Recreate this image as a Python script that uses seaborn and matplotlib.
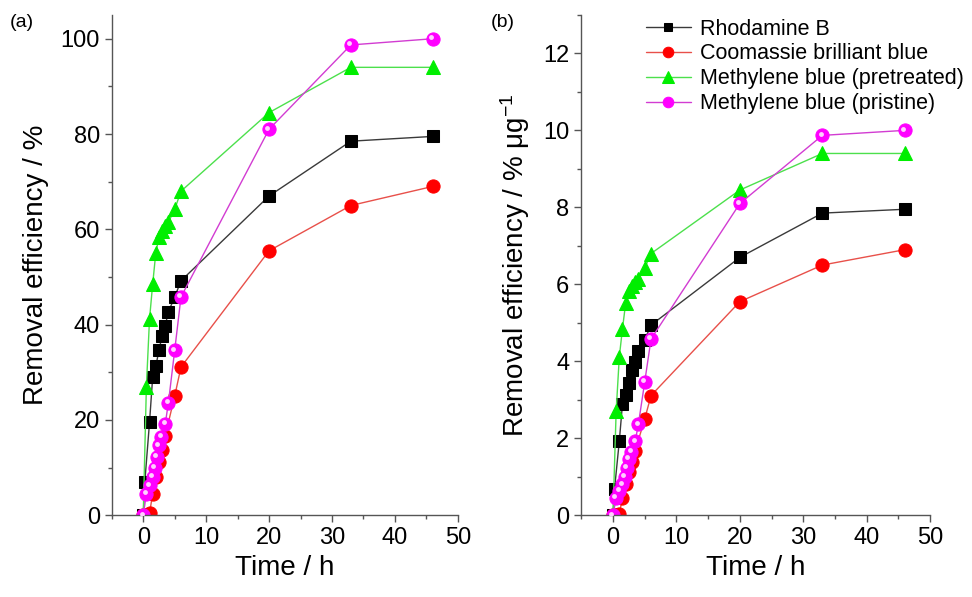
import numpy as np
import pandas as pd
import matplotlib
matplotlib.use('Agg')
import matplotlib.pyplot as plt
from matplotlib.ticker import MultipleLocator
from matplotlib.transforms import offset_copy
import seaborn as sns

# ── data ──────────────────────────────────────────────────
dyes = ['Rhodamine B', 'Coomassie brilliant blue',
        'Methylene blue (pretreated)', 'Methylene blue (pristine)']

t_rb = [0, 0.25, 1, 1.5, 2, 2.5, 3, 3.5, 4, 5, 6, 20, 33, 46]
t_cb = [0, 0.5, 1, 1.5, 2, 2.5, 3, 3.5, 5, 6, 20, 33, 46]
t_mbt = [0, 0.5, 1, 1.5, 2, 2.5, 3, 3.5, 4, 5, 6, 20, 33, 46]
t_mbp = [0, 0.5, 1, 1.5, 1.85, 2.2, 2.5, 2.9, 3.5, 4, 5, 6, 20, 33, 46]

# panel (a): removal efficiency / %
a_rb = [0, 7, 19.5, 29, 31.3, 34.6, 37.7, 39.8, 42.7, 45.8, 49.2, 67, 78.5, 79.5]
a_cb = [0, 0, 0.4, 4.5, 8, 11.2, 13.7, 16.7, 25, 31.1, 55.5, 65, 69]
a_mbt = [0, 27, 41.2, 48.5, 55.1, 58.3, 59.6, 60.7, 61.5, 64.2, 68, 84.5, 94, 94]
a_mbp = [0, 4.5, 6.3, 8, 9.9, 12.3, 14.7, 16.5, 19.2, 23.6, 34.6, 45.8, 81, 98.7, 100]

# panel (b): removal efficiency / % ug-1
b_rb = [0, 0.69, 1.93, 2.9, 3.12, 3.44, 3.77, 3.98, 4.26, 4.56, 4.94, 6.7, 7.85, 7.95]
b_cb = [0, 0, 0.04, 0.45, 0.8, 1.12, 1.37, 1.67, 2.5, 3.11, 5.55, 6.5, 6.9]
b_mbt = [0, 2.7, 4.12, 4.85, 5.51, 5.83, 5.96, 6.07, 6.15, 6.42, 6.8, 8.45, 9.4, 9.4]
b_mbp = [0, 0.45, 0.63, 0.8, 0.99, 1.23, 1.47, 1.65, 1.92, 2.36, 3.46, 4.58, 8.1, 9.87, 10.0]

times = [t_rb, t_cb, t_mbt, t_mbp]
panel_a = [a_rb, a_cb, a_mbt, a_mbp]
panel_b = [b_rb, b_cb, b_mbt, b_mbp]

# ── styling ───────────────────────────────────────────────
sns.set_theme(style='ticks')
plt.rcParams['font.family'] = ['Liberation Sans', 'DejaVu Sans']
plt.rcParams['text.color'] = 'black'
plt.rcParams['axes.labelcolor'] = 'black'
plt.rcParams['xtick.labelcolor'] = 'black'
plt.rcParams['ytick.labelcolor'] = 'black'

line_col = ['#3a3a3a', '#e8504a', '#4ce04c', '#d23cd2']
face_col = ['#000000', '#ff0000', '#00ee00', '#ff00ff']
markers = ['s', 'o', '^', 'o']
msize = [8, 9.5, 10.5, 9.5]

fig = plt.figure(figsize=(9.72, 5.97), dpi=100)
ax_a = fig.add_axes([0.115, 0.137, 0.356, 0.838])
ax_b = fig.add_axes([0.598, 0.137, 0.359, 0.838])


def draw(ax, values, ymax, ymaj, label):
    for i in range(4):
        df = pd.DataFrame({'t': times[i], 'v': values[i]})
        sns.lineplot(data=df, x='t', y='v', ax=ax, color=line_col[i],
                     marker=markers[i], markersize=msize[i],
                     markerfacecolor=face_col[i], markeredgecolor=face_col[i],
                     linewidth=1, sort=False, estimator=None, label=dyes[i])
        if i == 3:
            # small glossy highlight on the pristine MB spheres
            shift = offset_copy(ax.transData, fig=fig, x=-1.2, y=1.2, units='points')
            ax.plot(df['t'], df['v'], ls='none', marker='o', markersize=3.5,
                    color='#ffd0ff', markeredgewidth=0, zorder=3, transform=shift)
    ax.set_xlim(-5, 50)
    ax.set_ylim(0, ymax)
    ax.xaxis.set_major_locator(MultipleLocator(10))
    ax.xaxis.set_minor_locator(MultipleLocator(5))
    ax.yaxis.set_major_locator(MultipleLocator(ymaj))
    ax.yaxis.set_minor_locator(MultipleLocator(ymaj / 2))
    ax.tick_params(which='major', length=5, width=1, labelsize=17,
                   color='#555555', direction='out')
    ax.tick_params(which='minor', length=3, width=1, color='#555555',
                   direction='out')
    for s in ['top', 'right']:
        ax.spines[s].set_visible(False)
    for s in ['left', 'bottom']:
        ax.spines[s].set_color('#555555')
        ax.spines[s].set_linewidth(1)
    ax.set_xlabel('Time / h', fontsize=20, labelpad=4)
    ax.set_ylabel(label, fontsize=20, labelpad=8)
    ax.get_legend().remove()


draw(ax_a, panel_a, 105, 20, 'Removal efficiency / %')
draw(ax_b, panel_b, 13, 2, r'Removal efficiency / % $\mathregular{\mu g^{-1}}$')

h, l = ax_b.get_legend_handles_labels()
ax_b.legend(h[:4], l[:4], loc='upper left', bbox_to_anchor=(0.16, 1.01),
            frameon=False, fontsize=15.5, handlelength=2.1, handletextpad=0.4,
            labelspacing=0.18, borderaxespad=0, markerscale=0.8)

fig.text(0.010, 0.955, '(a)', fontsize=14)
fig.text(0.505, 0.955, '(b)', fontsize=14)

plt.savefig('out.png', dpi=100)
plt.close()
